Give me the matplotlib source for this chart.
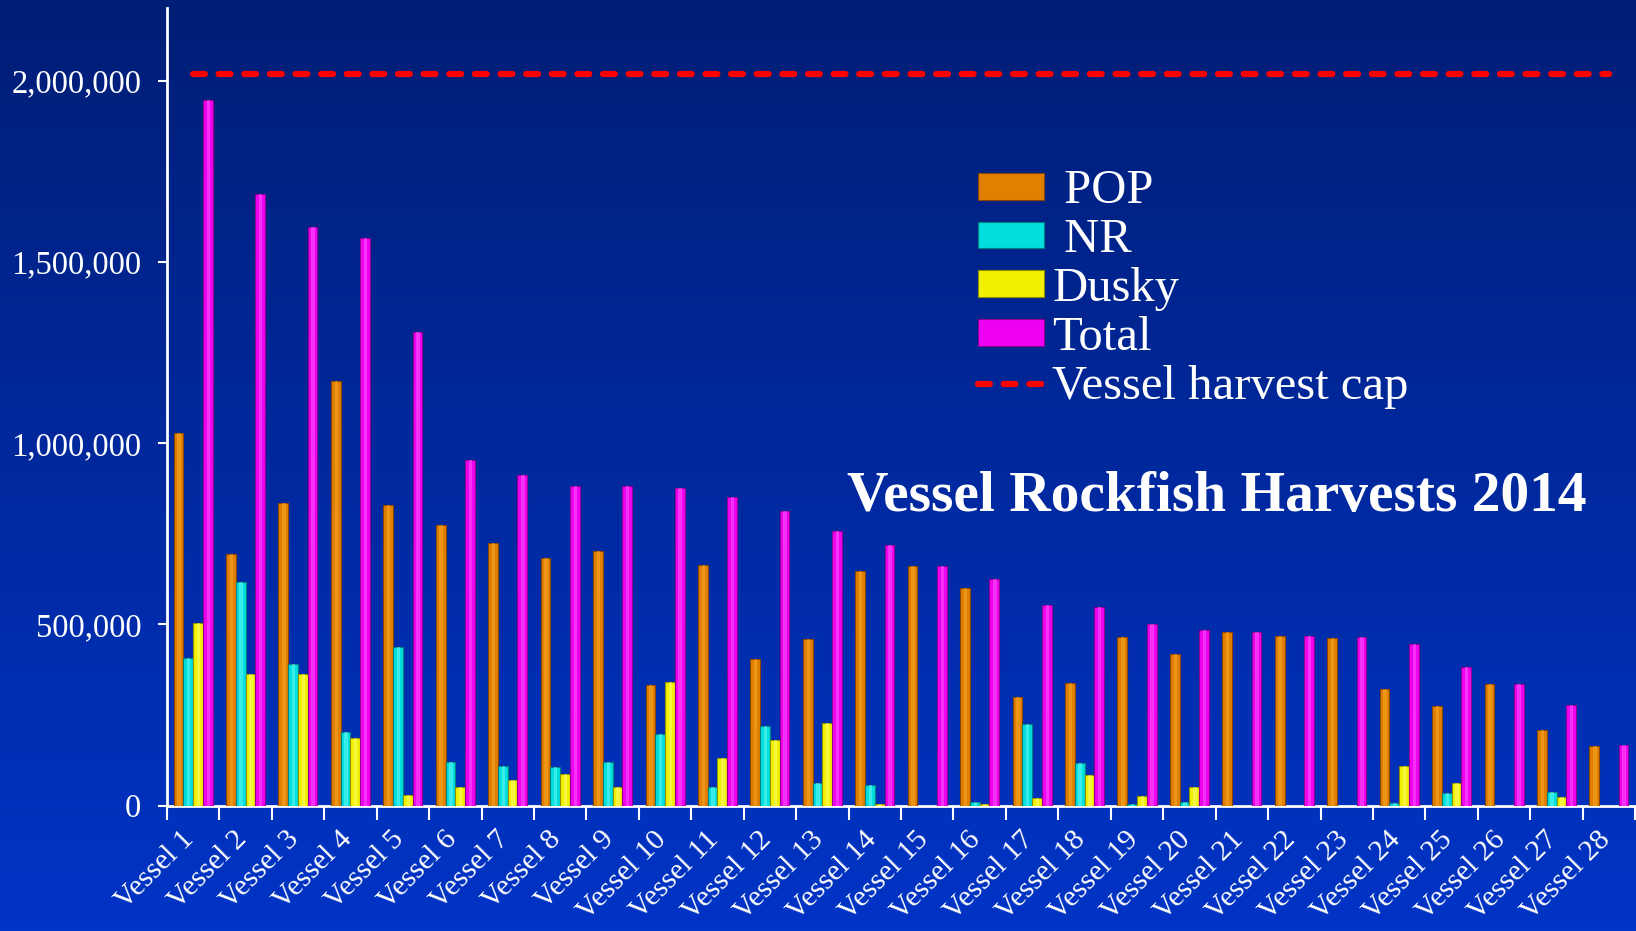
import numpy as np
import matplotlib
matplotlib.use('Agg')
import matplotlib.pyplot as plt
import matplotlib.transforms as mtransforms
from matplotlib.ticker import FuncFormatter, FixedLocator

plt.rcParams['font.family'] = ['Liberation Serif', 'DejaVu Serif']

# Harvest per vessel (lbs)
vessels = ['Vessel %d' % i for i in range(1, 29)]
pop = [1028000, 695000, 834000, 1171000, 830000, 774000, 725000, 683000, 702000, 332000,
       663000, 404000, 460000, 646000, 662000, 600000, 299000, 338000, 465000, 417000,
       478000, 469000, 463000, 321000, 274000, 336000, 208000, 163000]
nr = [408000, 618000, 391000, 202000, 438000, 120000, 109000, 105000, 120000, 196000,
      51000, 219000, 63000, 57000, 0, 11000, 225000, 117000, 3000, 9000,
      0, 0, 0, 6000, 35000, 0, 37000, 0]
dusky = [503000, 364000, 364000, 185000, 29000, 52000, 71000, 87000, 50000, 340000,
         130000, 181000, 227000, 5500, 0, 5500, 20000, 85000, 25000, 50000,
         0, 0, 0, 108000, 63000, 0, 23000, 0]
total = [1947000, 1687000, 1597000, 1567000, 1308000, 954000, 912000, 881000, 881000, 875000,
         852000, 813000, 758000, 719000, 662000, 625000, 554000, 548000, 501000, 484000,
         478000, 469000, 464000, 446000, 381000, 336000, 278000, 166000]
harvest_cap = 2020000

# name, values, face colour, edge colour, highlight colour
series = [(' POP', pop, '#e07f00', '#8a4600', '#ffb030'),
          (' NR', nr, '#00dede', '#007f7f', '#80ffff'),
          ('Dusky', dusky, '#f2f200', '#8f8f00', '#ffff90'),
          ('Total', total, '#f000f0', '#900090', '#ff70ff')]

fig = plt.figure(figsize=(16.36, 9.31), dpi=100)

# background gradient
bg = fig.add_axes([0, 0, 1, 1], zorder=-10)
grad = np.linspace(0, 1, 256).reshape(-1, 1)
top_c = np.array([0, 30, 118]) / 255.0
bot_c = np.array([0, 52, 198]) / 255.0
img = top_c * (1 - grad[..., None]) + bot_c * grad[..., None]
bg.imshow(img, aspect='auto', extent=[0, 1, 0, 1])
bg.axis('off')

ax = fig.add_axes([0.102, 0.1348, 0.8975, 0.8562])
ax.patch.set_alpha(0)

x = np.arange(len(vessels))
width = 0.186
bar_handles = []
for i, (name, vals, col, edge, hi) in enumerate(series):
    offs = (i - 1.5) * width
    b = ax.bar(x + offs, vals, width, color=col, edgecolor=edge, linewidth=0.8, label=name, zorder=3)
    bar_handles.append(b)
    # light stripe to give the bars a bevelled look
    ax.bar(x + offs + width * 0.05, vals, width * 0.35, color=hi, alpha=0.45, linewidth=0, zorder=3.5)

cap_line, = ax.plot(x, [harvest_cap] * len(x), color='#ff0000', linewidth=4.5, dashes=(1.9, 2.2),
                    dash_capstyle='round', label='Vessel harvest cap', zorder=4)

ax.set_xlim(-0.5, len(vessels) - 0.5)
ax.set_ylim(0, 2200000)
ax.set_yticks([0, 500000, 1000000, 1500000, 2000000])
ax.yaxis.set_major_formatter(FuncFormatter(lambda v, p: '{:,.0f}'.format(v)))

ax.set_xticks(x)
ax.set_xticklabels(vessels, rotation=45, ha='right', rotation_mode='anchor')
ax.xaxis.set_minor_locator(FixedLocator(np.arange(-0.5, len(vessels), 1.0)))
ax.tick_params(axis='x', which='major', length=0, pad=15, labelsize=21.5, colors='white')
ax.tick_params(axis='x', which='minor', length=10, width=1.5, color='white', direction='out')
ax.tick_params(axis='y', length=6.5, width=1.5, colors='white', labelsize=23.5, pad=12)
shift = mtransforms.ScaledTranslation(-0.12, 0, fig.dpi_scale_trans)
for lab in ax.get_xticklabels():
    lab.set_transform(lab.get_transform() + shift)

for s in ['top', 'right']:
    ax.spines[s].set_visible(False)
for s in ['left', 'bottom']:
    ax.spines[s].set_color('white')
    ax.spines[s].set_linewidth(2)

handles = bar_handles + [cap_line]
labels = [s[0] for s in series] + ['Vessel harvest cap']
leg = ax.legend(handles, labels, loc='upper left', bbox_to_anchor=(0.598, 0.818),
                bbox_transform=fig.transFigure, frameon=False, fontsize=35,
                handlelength=1.36, handleheight=0.47, handletextpad=0.16,
                labelspacing=0.1, borderpad=0, borderaxespad=0)
for t in leg.get_texts():
    t.set_color('white')

fig.text(0.744, 0.451, 'Vessel Rockfish Harvests 2014', ha='center', va='baseline',
         color='white', fontsize=41.3, fontweight='bold')

fig.savefig('out.png', dpi=100)
